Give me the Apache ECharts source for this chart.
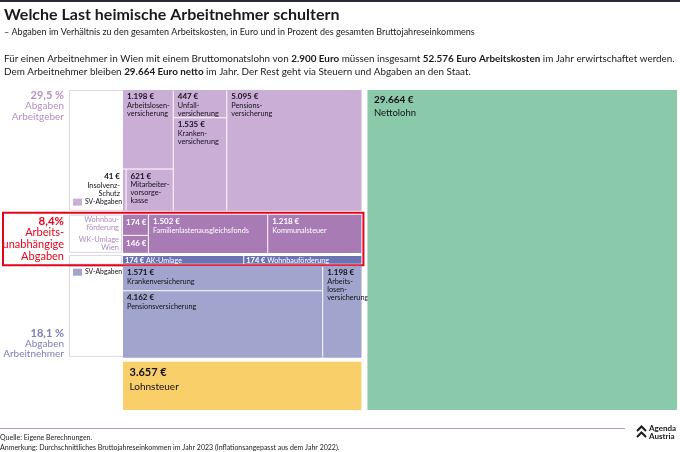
<!DOCTYPE html>
<html><head><meta charset="utf-8">
<script src="https://cdn.jsdelivr.net/npm/echarts@6/dist/echarts.min.js"></script>
<style>html,body{margin:0;padding:0;background:#fff}#c{width:680px;height:452px}</style>
</head><body><div id="c"></div><script>
// ---------- DATA (€ per year) ----------
const agValues = [41, 1198, 621, 447, 1535, 5095];
const agLabels = ['Insolvenz-\nSchutz', 'Arbeitslosen-\nversicherung', 'Mitarbeiter-\nvorsorge-\nkasse', 'Unfall-\nversicherung', 'Kranken-\nversicherung', 'Pensions-\nversicherung'];
const auValues = [174, 146, 1502, 1218];
const auLabels = ['Wohnbau-\nförderung', 'WK-Umlage\nWien', 'Familienlastenausgleichsfonds', 'Kommunalsteuer'];
const stripValues = [174, 174];
const stripLabels = ['AK-Umlage', 'Wohnbauförderung'];
const anValues = [1571, 4162, 1198];
const anLabels = ['Krankenversicherung', 'Pensionsversicherung', 'Arbeits-\nlosen-\nversicherung'];
const taxValues = [3657];
const taxLabels = ['Lohnsteuer'];
const netValues = [29664];
const netLabels = ['Nettolohn'];
const groupShareLabels = ['29,5 %', '8,4%', '18,1 %'];
const groupNameLabels = [['Abgaben', 'Arbeitgeber'], ['Arbeits-', 'unabhängige', 'Abgaben'], ['Abgaben', 'Arbeitnehmer']];
const legendLabel = 'SV-Abgaben';

// ---------- STYLES ----------
const DARK = '#111118';
const STY = {
  ag:    {fill: '#cbaed5', txt: DARK, vs: 8, ns: 7.3, lh: 8},
  au:    {fill: '#a87bb4', txt: '#ffffff', vs: 8, ns: 7.3, lh: 8},
  strip: {fill: '#6b73b2', txt: '#ffffff', vs: 7.5, ns: 7.2, lh: 8},
  an:    {fill: '#a1a4cc', txt: DARK, vs: 8, ns: 7.3, lh: 8.3},
  tax:   {fill: '#f9cf6a', txt: DARK, vs: 11, ns: 10, lh: 13},
  net:   {fill: '#8bc9ab', txt: DARK, vs: 10, ns: 9.5, lh: 12}
};
const FONT = 'Lato, "Noto Sans", sans-serif';

// ---------- TREE (nested slice & dice) ----------
function leaf(grp, vals, labs, i, extra) { return Object.assign({grp, value: vals[i], label: labs[i]}, extra || {}); }
const agBlock = {dir: 'h', key: 'ag', gap: 1, children: [
  {dir: 'v', gap: 1, children: [leaf('ag', agValues, agLabels, 1), {dir: 'h', gap: 1, children: [leaf('ag', agValues, agLabels, 0, {outside: 'all'}), leaf('ag', agValues, agLabels, 2)]}]},
  {dir: 'v', gap: 1, children: [leaf('ag', agValues, agLabels, 3), leaf('ag', agValues, agLabels, 4)]},
  leaf('ag', agValues, agLabels, 5)
]};
const auBlock = {dir: 'h', key: 'au', gap: 1, children: [
  {dir: 'v', gap: 1, children: [leaf('au', auValues, auLabels, 0, {outside: 'name'}), leaf('au', auValues, auLabels, 1, {outside: 'name'})]},
  leaf('au', auValues, auLabels, 2), leaf('au', auValues, auLabels, 3)
]};
const stripBlock = {dir: 'h', key: 'strip', gap: 1, minWeight: 750, children: [
  leaf('strip', stripValues, stripLabels, 0, {inline: true}), leaf('strip', stripValues, stripLabels, 1, {inline: true})
]};
const anBlock = {dir: 'h', key: 'an', gap: 1, children: [
  {dir: 'v', gap: 1, children: [leaf('an', anValues, anLabels, 0), leaf('an', anValues, anLabels, 1)]},
  leaf('an', anValues, anLabels, 2)
]};
const taxBlock = {dir: 'h', key: 'tax', gap: 1, children: [leaf('tax', taxValues, taxLabels, 0)]};
const leftCol = {dir: 'v', gap: [4, 3, 2, 4], children: [agBlock, auBlock, stripBlock, anBlock, taxBlock]};
const root = {dir: 'h', gap: 6, children: [leftCol, leaf('net', netValues, netLabels, 0)]};

function sumOf(n) { return n.children ? n.children.reduce((s, c) => s + sumOf(c), 0) : n.value; }
function weightOf(n) { const s = sumOf(n); return n.minWeight ? Math.max(s, n.minWeight) : s; }
function gapAt(n, i) { return Array.isArray(n.gap) ? n.gap[i] : (n.gap == null ? 1 : n.gap); }
const leaves = [];
function layout(n, x0, x1, y0, y1, ins) {
  n.box = {x0, x1, y0, y1, ins};
  if (!n.children) { leaves.push(n); return; }
  const ws = n.children.map(weightOf), tot = ws.reduce((a, b) => a + b, 0);
  let acc = 0;
  n.children.forEach((c, i) => {
    const f0 = acc / tot; acc += ws[i]; const f1 = acc / tot;
    const ci = Object.assign({}, ins);
    const last = n.children.length - 1;
    if (n.dir === 'h') {
      if (i > 0) ci.l = gapAt(n, i - 1) / 2;
      if (i < last) ci.r = gapAt(n, i) / 2;
      layout(c, x0 + (x1 - x0) * f0, x0 + (x1 - x0) * f1, y0, y1, ci);
    } else {
      if (i > 0) ci.t = gapAt(n, i - 1) / 2;
      if (i < last) ci.b = gapAt(n, i) / 2;
      layout(c, x0, x1, y0 + (y1 - y0) * f0, y0 + (y1 - y0) * f1, ci);
    }
  });
}
const TOTAL = sumOf(root);
layout(root, 0, TOTAL, 0, 1, {l: 0, t: 0, r: 0, b: 0});

const fmt = v => String(v).replace(/\B(?=(\d{3})+(?!\d))/g, '.') + ' €';

function pxBox(api, b) {
  const a = api.coord([b.x0, b.y0]), c = api.coord([b.x1, b.y1]);
  const x = a[0] + b.ins.l, y = a[1] + b.ins.t;
  return {x, y, w: Math.max(1, c[0] - b.ins.r - x), h: Math.max(1, c[1] - b.ins.b - y)};
}
function txt(x, y, text, o) {
  return {type: 'text', style: Object.assign({x, y, text, fontFamily: FONT, align: 'left', verticalAlign: 'top'}, o)};
}

function renderCell(params, api) {
  const L = leaves[params.dataIndex];
  const p = pxBox(api, {x0: api.value(0), x1: api.value(1), y0: api.value(2), y1: api.value(3), ins: L.box.ins});
  const s = STY[L.grp];
  const ch = [{type: 'rect', shape: {x: p.x, y: p.y, width: p.w, height: p.h}, style: {fill: s.fill}}];
  const val = fmt(L.value);
  const big = L.grp === 'tax' || L.grp === 'net';
  const pad = big ? 5 : 2.5;
  if (L.inline) {
    ch.push(txt(p.x + 2, p.y + p.h / 2 + 0.5, val, {fill: s.txt, fontSize: s.vs, fontWeight: 'bold', verticalAlign: 'middle'}));
    ch.push(txt(p.x + 23, p.y + p.h / 2 + 0.5, L.label, {fill: s.txt, fontSize: s.ns, verticalAlign: 'middle'}));
  } else if (L.outside === 'all') {
    ch.push(txt(p.x - 3, p.y + 3, val, {fill: DARK, fontSize: s.vs, fontWeight: 'bold', align: 'right'}));
    ch.push(txt(p.x - 3, p.y + 3 + s.vs + 1.5, L.label, {fill: DARK, fontSize: s.ns, lineHeight: s.lh, align: 'right'}));
  } else if (L.outside === 'name') {
    ch.push(txt(p.x + 3, p.y + 4, val, {fill: s.txt, fontSize: s.vs, fontWeight: 'bold'}));
    ch.push(txt(p.x - 4, p.y + p.h / 2 - 1, L.label, {fill: '#b08abd', fontSize: 7.5, lineHeight: 8.5, align: 'right', verticalAlign: 'middle'}));
  } else {
    ch.push(txt(p.x + pad + 1.5, p.y + pad, val, {fill: s.txt, fontSize: s.vs, fontWeight: 'bold'}));
    ch.push(txt(p.x + pad + 1.5, p.y + pad + s.vs + (big ? 2 : 1), L.label, {fill: s.txt, fontSize: s.ns, lineHeight: s.lh}));
  }
  return {type: 'group', children: ch};
}

function renderDecor(params, api) {
  const ag = pxBox(api, agBlock.box), au = pxBox(api, auBlock.box), st = pxBox(api, stripBlock.box), an = pxBox(api, anBlock.box);
  const left = ag.x, right = ag.x + ag.w, lab = left - 54;
  const border = '#ddd5e3';
  const ch = [];
  const box = (x, y, w, h) => ch.push({type: 'rect', shape: {x: x + 0.5, y: y + 0.5, width: w - 1, height: h - 1}, style: {fill: '#fff', stroke: border, lineWidth: 1}});
  box(lab, ag.y, right - lab, ag.h);
  box(lab, au.y, left - lab - 1, au.h);
  box(lab, st.y - 1, left - lab - 1, st.h + 2);
  box(lab, an.y, right - lab, an.h - 1);
  // red frame
  ch.push({type: 'rect', shape: {x: 3, y: au.y - 2, width: right + 2 - 3, height: st.y + st.h + 1.5 - (au.y - 2)}, style: {fill: 'none', stroke: '#e3061b', lineWidth: 2}});
  // legends
  ch.push({type: 'rect', shape: {x: lab + 4, y: ag.y + ag.h - 12, width: 9, height: 7}, style: {fill: STY.ag.fill}});
  ch.push(txt(lab + 16, ag.y + ag.h - 8.5, legendLabel, {fill: DARK, fontSize: 6.8, verticalAlign: 'middle'}));
  ch.push({type: 'rect', shape: {x: lab + 4, y: an.y + 3, width: 9, height: 7}, style: {fill: STY.an.fill}});
  ch.push(txt(lab + 16, an.y + 6.5, legendLabel, {fill: DARK, fontSize: 6.8, verticalAlign: 'middle'}));
  // side labels
  const sx = lab - 5;
  const c1 = '#b590c1', c2 = '#e3061b', c3 = '#7c7fb9';
  ch.push(txt(sx, ag.y, groupShareLabels[0], {fill: c1, fontSize: 11, fontWeight: 'bold', align: 'right'}));
  groupNameLabels[0].forEach((t, i) => ch.push(txt(sx, ag.y + 11 + i * 11, t, {fill: c1, fontSize: 10, align: 'right'})));
  ch.push(txt(sx, au.y + 0.5, groupShareLabels[1], {fill: c2, fontSize: 11.5, fontWeight: 'bold', align: 'right'}));
  groupNameLabels[1].forEach((t, i) => ch.push(txt(sx, au.y + 12.5 + i * 12, t, {fill: c2, fontSize: 11, align: 'right'})));
  const ab = an.y + an.h;
  ch.push(txt(sx, ab - 30, groupShareLabels[2], {fill: c3, fontSize: 11, fontWeight: 'bold', align: 'right'}));
  groupNameLabels[2].forEach((t, i) => ch.push(txt(sx, ab - 19.5 + i * 10, t, {fill: c3, fontSize: 10, align: 'right'})));
  return {type: 'group', children: ch};
}

const chart = echarts.init(document.getElementById('c'), null, {renderer: 'canvas'});
chart.setOption({
  animation: false,
  backgroundColor: '#fff',
  grid: {left: 123, right: 3, top: 90, bottom: 42},
  xAxis: {type: 'value', min: 0, max: TOTAL, show: false},
  yAxis: {type: 'value', min: 0, max: 1, inverse: true, show: false},
  series: [
    {type: 'custom', z: 1, clip: false, silent: true, data: [[0, 0]], renderItem: renderDecor},
    {type: 'custom', z: 2, clip: false, silent: true,
     data: leaves.map(L => [L.box.x0, L.box.x1, L.box.y0, L.box.y1]),
     encode: {x: [0, 1], y: [2, 3]}, renderItem: renderCell}
  ],
  graphic: [
    {type: 'rect', left: 0, top: 0, shape: {width: 680, height: 2}, style: {fill: '#2d2a3a'}},
    {type: 'text', left: 4, top: 7, style: {text: 'Welche Last heimische Arbeitnehmer schultern', fontFamily: FONT, fontSize: 16, fontWeight: 'bold', fill: '#1a1a1a'}},
    {type: 'text', left: 4, top: 28, style: {text: '– Abgaben im Verhältnis zu den gesamten Arbeitskosten, in Euro und in Prozent des gesamten Bruttojahreseinkommens', fontFamily: FONT, fontSize: 9, fill: '#1a1a1a'}},
    {type: 'text', left: 4, top: 54, style: {text: 'Für einen Arbeitnehmer in Wien mit einem Bruttomonatslohn von {b|2.900 Euro} müssen insgesamt {b|52.576 Euro Arbeitskosten} im Jahr erwirtschaftet werden.', fontFamily: FONT, fontSize: 9.9, fill: '#1a1a1a', rich: {b: {fontFamily: FONT, fontSize: 9.9, fontWeight: 'bold', fill: '#1a1a1a'}}}},
    {type: 'text', left: 4, top: 67, style: {text: 'Dem Arbeitnehmer bleiben {b|29.664 Euro netto} im Jahr. Der Rest geht via Steuern und Abgaben an den Staat.', fontFamily: FONT, fontSize: 9.9, fill: '#1a1a1a', rich: {b: {fontFamily: FONT, fontSize: 9.9, fontWeight: 'bold', fill: '#1a1a1a'}}}},
    {type: 'rect', left: 0, top: 428, shape: {width: 625, height: 1}, style: {fill: '#b39cc0'}},
    {type: 'text', left: 0, top: 434, style: {text: 'Quelle: Eigene Berechnungen.', fontFamily: FONT, fontSize: 7, fill: '#1a1a1a'}},
    {type: 'text', left: 0, top: 444, style: {text: 'Anmerkung: Durchschnittliches Bruttojahreseinkommen im Jahr 2023 (Inflationsangepasst aus dem Jahr 2022).', fontFamily: FONT, fontSize: 7, fill: '#1a1a1a'}},
    {type: 'polyline', shape: {points: [[637, 431], [641.5, 426.5], [646, 431]]}, style: {stroke: '#1a1a1a', lineWidth: 2, fill: 'none'}},
    {type: 'polyline', shape: {points: [[637, 437], [641.5, 432.5], [646, 437]]}, style: {stroke: '#1a1a1a', lineWidth: 2, fill: 'none'}},
    {type: 'text', left: 649, top: 424, style: {text: 'Agenda', fontFamily: FONT, fontSize: 8, fontWeight: 'bold', fill: '#1a1a1a'}},
    {type: 'text', left: 649, top: 432, style: {text: 'Austria', fontFamily: FONT, fontSize: 8, fontWeight: 'bold', fill: '#1a1a1a'}}
  ]
});
</script></body></html>
